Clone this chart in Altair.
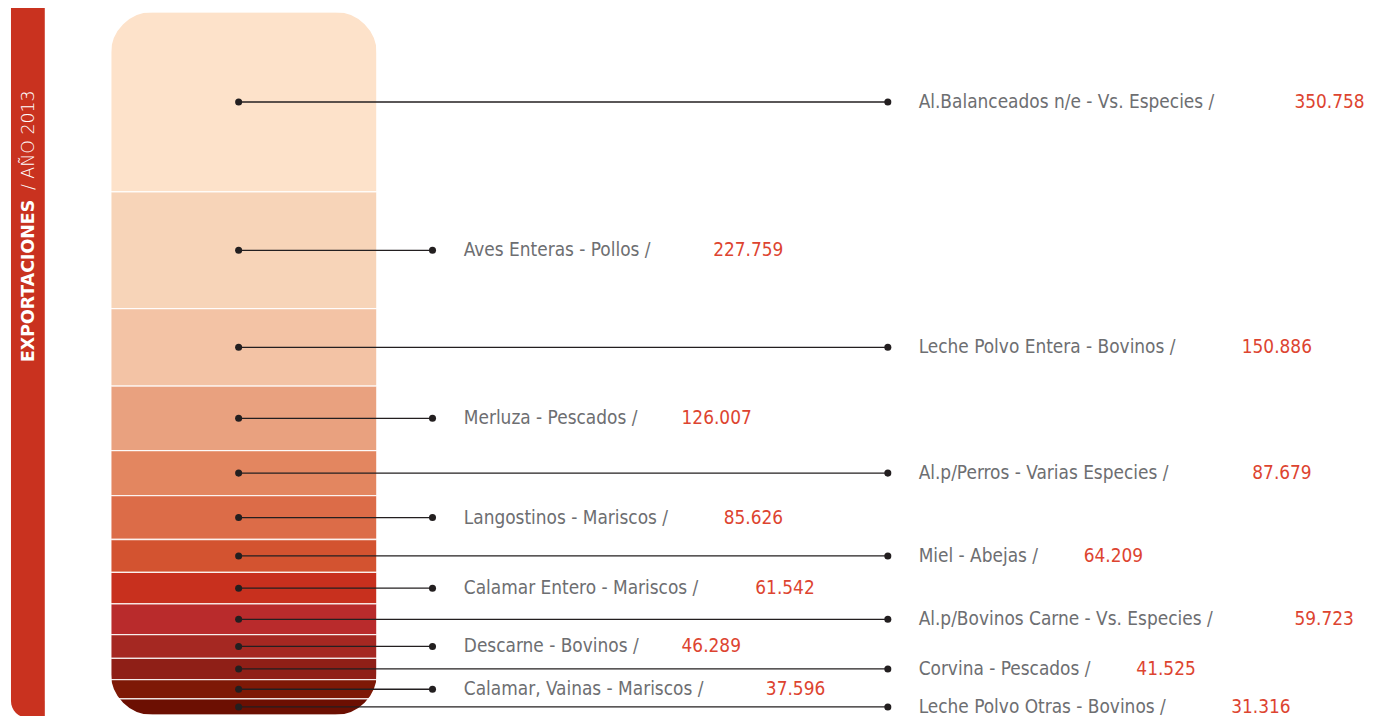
import altair as alt
import pandas as pd

# ---------------- data ----------------
labels = [
    "Al.Balanceados n/e - Vs. Especies /",
    "Aves Enteras - Pollos /",
    "Leche Polvo Entera - Bovinos /",
    "Merluza - Pescados /",
    "Al.p/Perros - Varias Especies /",
    "Langostinos - Mariscos /",
    "Miel - Abejas /",
    "Calamar Entero - Mariscos /",
    "Al.p/Bovinos Carne - Vs. Especies /",
    "Descarne - Bovinos /",
    "Corvina - Pescados /",
    "Calamar, Vainas - Mariscos /",
    "Leche Polvo Otras - Bovinos /",
]
values = [350.758, 227.759, 150.886, 126.007, 87.679, 85.626, 64.209,
          61.542, 59.723, 46.289, 41.525, 37.596, 31.316]
colors = ["#fde2ca", "#f7d4b8", "#f3c3a5", "#e9a17f", "#e38660", "#dc6c48",
          "#d35330", "#c8301e", "#b92b2c", "#a52822", "#8f1f17", "#7e1906",
          "#6c0f02"]
title_bold = "EXPORTACIONES"
title_light = "/ AÑO 2013"

# ---------------- layout (pixels, chart space) ----------------
W, H = 1367, 712
BAR_X1, BAR_X2 = 103.5, 371
Y_TOP, Y_BOT = 2, 709
RADIUS = 42
MASK_W = 40
DOT_X = 232
NEAR_END, FAR_END = 427, 885
NEAR_TXT, FAR_TXT = 458.5, 916
LABEL_FONT = "DejaVu Sans Condensed"

df = pd.DataFrame({"idx": list(range(len(labels))), "label": labels, "value": values})
total = float(sum(values))

ys = alt.Scale(domain=[0, total], range=[Y_BOT, Y_TOP], nice=False, zero=False)
xs = alt.Scale(domain=[0, W], range=[0, W], nice=False, zero=False)

base = alt.Chart(df).transform_stack(
    stack="value", groupby=[], as_=["y0", "y1"],
    sort=[alt.SortField("idx", order="descending")]
).transform_calculate(
    mid="(datum.y0 + datum.y1) / 2",
    dotx=f"{DOT_X}",
    xend=f"datum.idx % 2 == 1 ? {NEAR_END} : {FAR_END}",
    xt=f"datum.idx % 2 == 1 ? {NEAR_TXT} : {FAR_TXT}",
    vtxt="format(datum.value, '.3f')",
).transform_calculate(
    xv="datum.xt + length(datum.label) * 10.6 + 7"
)

segs = base.mark_rect(stroke="white", strokeWidth=1.3, strokeOpacity=0.85).encode(
    x=alt.value(BAR_X1), x2=alt.value(BAR_X2),
    y=alt.Y("y0:Q", scale=ys, axis=None), y2="y1:Q",
    color=alt.Color("label:N", scale=alt.Scale(domain=labels, range=colors), legend=None),
)

one = alt.Chart(pd.DataFrame({"t": [title_bold], "u": [title_light]}))

mask = one.mark_rect(filled=False, stroke="white", strokeWidth=MASK_W,
                     cornerRadius=RADIUS + MASK_W / 2).encode(
    x=alt.value(BAR_X1 - MASK_W / 2), x2=alt.value(BAR_X2 + MASK_W / 2),
    y=alt.value(Y_TOP - MASK_W / 2), y2=alt.value(Y_BOT + MASK_W / 2),
)

rules = base.mark_rule(color="#231f20", strokeWidth=1.3).encode(
    x=alt.X("dotx:Q", scale=xs, axis=None), x2="xend:Q",
    y=alt.Y("mid:Q", scale=ys, axis=None),
)
dots1 = base.mark_circle(size=50, color="#231f20", opacity=1).encode(
    x=alt.X("dotx:Q", scale=xs, axis=None), y=alt.Y("mid:Q", scale=ys, axis=None))
dots2 = base.mark_circle(size=50, color="#231f20", opacity=1).encode(
    x=alt.X("xend:Q", scale=xs, axis=None), y=alt.Y("mid:Q", scale=ys, axis=None))

lbl = base.mark_text(align="left", baseline="middle", font=LABEL_FONT, fontSize=19,
                     color="#6d6e71").encode(
    x=alt.X("xt:Q", scale=xs, axis=None), y=alt.Y("mid:Q", scale=ys, axis=None),
    text="label:N")
val = base.mark_text(align="left", baseline="middle", font=LABEL_FONT, fontSize=19,
                     color="#dd4430").encode(
    x=alt.X("xv:Q", scale=xs, axis=None), y=alt.Y("mid:Q", scale=ys, axis=None),
    text="vtxt:N")

band = one.mark_rect(color="#c9321f", cornerRadiusBottomLeft=36).encode(
    x=alt.value(3), x2=alt.value(37), y=alt.value(-2), y2=alt.value(H))
band_t1 = one.mark_text(angle=270, align="left", baseline="middle", font="DejaVu Sans",
                        fontWeight="bold", fontSize=17.5, color="white").encode(
    x=alt.value(21.5), y=alt.value(354), text="t:N")
band_t2 = one.mark_text(angle=270, align="left", baseline="middle", font="DejaVu Sans",
                        fontWeight=200, fontSize=17.5, color="white").encode(
    x=alt.value(21.5), y=alt.value(181), text="u:N")

chart = alt.layer(band, band_t1, band_t2, segs, mask, rules, dots1, dots2, lbl, val).properties(
    width=W, height=H, padding=0, autosize=alt.AutoSizeParams(type="none")
).configure_view(strokeWidth=0)

chart.save("out.html", embed_options={"renderer": "svg", "actions": False})
